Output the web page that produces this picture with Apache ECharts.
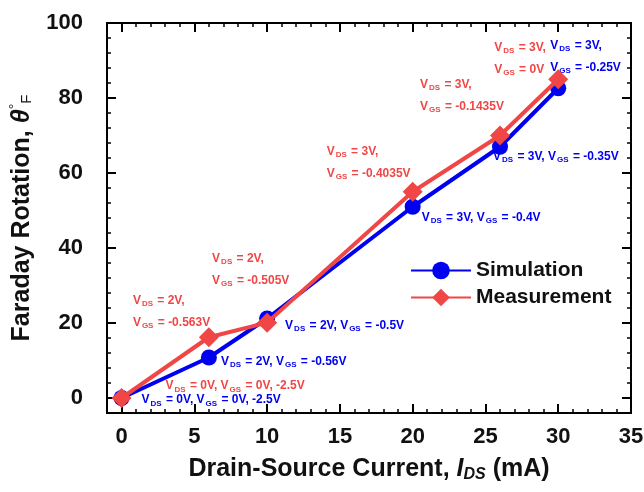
<!DOCTYPE html>
<html>
<head>
<meta charset="utf-8">
<script src="https://cdn.jsdelivr.net/npm/echarts@6/dist/echarts.min.js"></script>
<style>html,body{margin:0;padding:0;background:#fff}#c{width:644px;height:492px}</style>
</head>
<body>
<div id="c"></div>
<script>
// ---- data ----
var idsValues = [0, 6, 10, 20, 26, 30];
var simValues = [0, 10.8, 21.2, 51, 67, 82.6];
var measValues = [0, 16.2, 20.1, 55, 70, 85];
var xTickLabels = [0, 5, 10, 15, 20, 25, 30, 35];
var yTickLabels = [0, 20, 40, 60, 80, 100];
var seriesNames = ['Simulation', 'Measurement'];
var simNotes = [
  'V{s|DS} = 0V, V{s|GS} = 0V, -2.5V',
  'V{s|DS} = 2V, V{s|GS} = -0.56V',
  'V{s|DS} = 2V, V{s|GS} = -0.5V',
  'V{s|DS} = 3V, V{s|GS} = -0.4V',
  'V{s|DS} = 3V, V{s|GS} = -0.35V',
  'V{s|DS} = 3V,\nV{s|GS} = -0.25V'
];
var measNotes = [
  'V{s|DS} = 0V, V{s|GS} = 0V, -2.5V',
  'V{s|DS} = 2V,\nV{s|GS} = -0.563V',
  'V{s|DS} = 2V,\nV{s|GS} = -0.505V',
  'V{s|DS} = 3V,\nV{s|GS} = -0.4035V',
  'V{s|DS} = 3V,\nV{s|GS} = -0.1435V',
  'V{s|DS} = 3V,\nV{s|GS} = 0V'
];

// ---- label placement (style only) ----
var simOffsets = [[20, 2], [12, 4], [18, 7], [9, 11], [-7, 10], [-8, -32]];
var measOffsets = [[44, -12], [-76, -26], [-55, -53], [-86, -29], [-80, -40], [-64, -21]];

var BLUE = '#0000f0', RED = '#f04646';
var sans = '"Liberation Sans", Arial, sans-serif';

function buildData(ys, notes, offs, color) {
  return idsValues.map(function (x, i) {
    return {
      value: [x, ys[i]],
      label: {
        show: true,
        position: 'inside',
        align: 'left',
        verticalAlign: 'middle',
        offset: offs[i],
        formatter: notes[i],
        color: color,
        fontFamily: sans,
        fontWeight: 'bold',
        fontSize: 12,
        lineHeight: 22,
        rich: {
          s: { fontSize: 8, fontWeight: 'bold', color: color, fontFamily: sans, padding: [7, 1, 0, 1] }
        }
      }
    };
  });
}

var lineStyleAxis = { color: '#000', width: 2 };
function xAx(pos, major) {
  return {
    type: 'value', position: pos, min: -1, max: 35, interval: 1,
    axisLine: { show: true, onZero: false, lineStyle: lineStyleAxis },
    axisTick: major ? { show: true, inside: true, length: 9, lineStyle: { width: 2, color: '#000' }, customValues: xTickLabels }
                    : { show: true, inside: true, length: 4, lineStyle: { width: 1.5, color: '#000' } },
    axisLabel: (major && pos === 'bottom') ? { show: true, customValues: xTickLabels, margin: 13, color: '#111', fontSize: 22, fontWeight: 'bold', fontFamily: sans }
                                           : { show: false },
    splitLine: { show: false },
    name: (major && pos === 'bottom') ? '{n|Drain-Source Current, }{i|I}{s|DS}{n| (mA)}' : '',
    nameLocation: 'middle', nameGap: 42,
    nameTextStyle: {
      rich: {
        n: { fontSize: 25, fontWeight: 'bold', fontFamily: sans, color: '#111' },
        i: { fontSize: 25, fontWeight: 'bold', fontStyle: 'italic', fontFamily: sans, color: '#111' },
        s: { fontSize: 16, fontWeight: 'bold', fontStyle: 'italic', fontFamily: sans, color: '#111', padding: [12, 0, 0, 0] }
      }
    }
  };
}
function yAx(pos, major) {
  return {
    type: 'value', position: pos, min: -4, max: 100, interval: 4,
    axisLine: { show: true, onZero: false, lineStyle: lineStyleAxis },
    axisTick: major ? { show: true, inside: true, length: 9, lineStyle: { width: 2, color: '#000' }, customValues: yTickLabels }
                    : { show: true, inside: true, length: 4, lineStyle: { width: 1.5, color: '#000' } },
    axisLabel: (major && pos === 'left') ? { show: true, customValues: yTickLabels, margin: 24, color: '#111', fontSize: 22, fontWeight: 'bold', fontFamily: sans }
                                         : { show: false },
    splitLine: { show: false },
    name: (major && pos === 'left') ? '{n|Faraday Rotation, }{t|θ}{d|°}{s|F}' : '',
    nameLocation: 'middle', nameGap: 71, nameRotate: 90,
    nameTextStyle: {
      rich: {
        n: { fontSize: 25, fontWeight: 'bold', fontFamily: sans, color: '#111' },
        t: { fontSize: 25, fontWeight: 'bold', fontStyle: 'italic', fontFamily: sans, color: '#111' },
        d: { fontSize: 14, fontFamily: sans, color: '#111', padding: [0, 0, 14, 0] },
        s: { fontSize: 15, fontFamily: sans, color: '#111', padding: [10, 0, 0, 0] }
      }
    }
  };
}

var chart = echarts.init(document.getElementById('c'), null, { renderer: 'canvas' });
chart.setOption({
  animation: false,
  backgroundColor: '#fff',
  grid: { left: 107, top: 23, right: 13, bottom: 79, containLabel: false, outerBoundsMode: 'none' },
  xAxis: [xAx('bottom', false), xAx('bottom', true), xAx('top', false), xAx('top', true)],
  yAxis: [yAx('left', false), yAx('left', true), yAx('right', false), yAx('right', true)],
  legend: {
    orient: 'vertical', left: 405, top: 255,
    itemWidth: 60, itemHeight: 22, itemGap: 6,
    textStyle: { fontSize: 21, fontWeight: 'bold', fontFamily: sans, color: '#111' },
    data: seriesNames
  },
  series: [
    {
      name: seriesNames[0], type: 'line', xAxisIndex: 0, yAxisIndex: 0,
      symbol: 'circle', symbolSize: 16,
      lineStyle: { color: BLUE, width: 4 }, itemStyle: { color: BLUE },
      data: buildData(simValues, simNotes, simOffsets, BLUE), z: 3
    },
    {
      name: seriesNames[1], type: 'line', xAxisIndex: 0, yAxisIndex: 0,
      symbol: 'diamond', symbolSize: 20,
      lineStyle: { color: RED, width: 4 }, itemStyle: { color: RED },
      data: buildData(measValues, measNotes, measOffsets, RED), z: 4
    }
  ]
});
</script>
</body>
</html>
